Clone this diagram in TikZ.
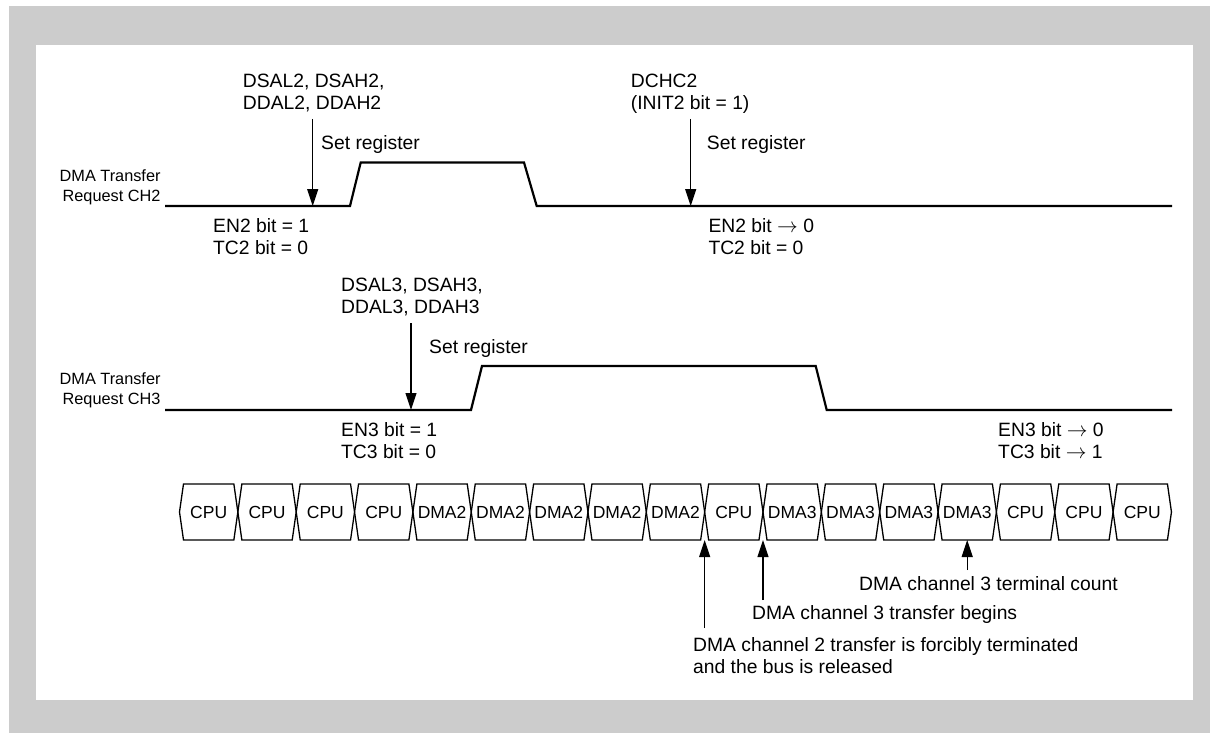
\documentclass[tikz,border=0pt]{standalone}
\usepackage{fontspec}
\setmainfont{Liberation Sans}
\usetikzlibrary{arrows.meta}
\definecolor{framegray}{RGB}{204,204,204}
\begin{document}
\begin{tikzpicture}[x=1pt,y=-1pt,
  lbl/.style={inner sep=0pt, anchor=north west, align=left, font=\fontsize{19.3}{22}\selectfont},
  sidelbl/.style={inner sep=0pt, anchor=north east, align=right, font=\fontsize{16.3}{20}\selectfont},
  buslbl/.style={inner sep=0pt, font=\fontsize{17.5}{20}\selectfont},
  wave/.style={line width=2.2pt, line join=miter},
  pointer/.style={line width=1.1pt, -{Triangle[length=17pt,width=11pt]}},
  busbox/.style={line width=1.3pt, line join=miter}]
\useasboundingbox (0,0) rectangle (1210,733);
\fill[framegray] (9,6) rectangle (1210,733);
\fill[white] (36,45) rectangle (1193,700);

% ---- CH2 ----
\node[sidelbl] (lab2) at (160.7,170) {DMA Transfer\\Request CH2};
\draw[wave] (165,206) -- (350,206) -- (360.7,162.5) -- (524,162.5) -- (536.7,206) -- (1172,206);
\node[lbl] (reg2) at (242.7,73.5) {DSAL2, DSAH2,\\DDAL2, DDAH2};
\node[lbl] (set2a) at (321,135) {Set register};
\coordinate (a2t) at (312.7,119);
\coordinate (a2h) at (312.7,206);
\draw[pointer] (a2t) -- (a2h);
\node[lbl] (en2a) at (213,218) {EN2 bit = 1\\TC2 bit = 0};
\node[lbl] (dchc2) at (630.7,73.5) {DCHC2\\(INIT2 bit = 1)};
\node[lbl] (set2b) at (706.7,135) {Set register};
\coordinate (b2t) at (690.7,119);
\coordinate (b2h) at (690.7,206);
\draw[pointer] (b2t) -- (b2h);
\node[lbl] (en2b) at (708.3,218) {EN2 bit $\rightarrow$ 0\\TC2 bit = 0};

% ---- CH3 ----
\node[sidelbl] (lab3) at (160.7,373) {DMA Transfer\\Request CH3};
\draw[wave] (165,410) -- (471,410) -- (482,366) -- (815.7,366) -- (826.7,410) -- (1172,410);
\node[lbl] (reg3) at (341,277.5) {DSAL3, DSAH3,\\DDAL3, DDAH3};
\node[lbl] (set3) at (429,339) {Set register};
\coordinate (a3t) at (411,323);
\coordinate (a3h) at (411,410);
\draw[pointer] (a3t) -- (a3h);
\node[lbl] (en3a) at (341,422) {EN3 bit = 1\\TC3 bit = 0};
\node[lbl] (en3b) at (998,422) {EN3 bit $\rightarrow$ 0\\TC3 bit $\rightarrow$ 1};

% ---- bus cycles ----
\foreach \lab [count=\i from 0] in {CPU,CPU,CPU,CPU,DMA2,DMA2,DMA2,DMA2,DMA2,CPU,DMA3,DMA3,DMA3,DMA3,CPU,CPU,CPU} {
  \pgfmathsetmacro\xa{179.5+\i*58.35}
  \pgfmathsetmacro\xb{\xa+58.35}
  \draw[busbox] (\xa,512) -- (\xa+4,484) -- (\xb-4,484) -- (\xb,512) -- (\xb-4,540) -- (\xa+4,540) -- cycle;
  \node[buslbl] (bus\i) at ({(\xa+\xb)/2},512) {\lab};
}
\coordinate (t9) at (704.65,540);
\coordinate (t10) at (763,540);
\coordinate (t13) at (967.2,540);
\coordinate (s9) at (704.65,628);
\coordinate (s10) at (763,600);
\coordinate (s13) at (967.2,570);
\draw[pointer] (s9) -- (t9);
\draw[pointer] (s10) -- (t10);
\draw[pointer] (s13) -- (t13);
\node[lbl] (tc) at (859,576) {DMA channel 3 terminal count};
\node[lbl] (begin) at (752,605) {DMA channel 3 transfer begins};
\node[lbl] (term) at (693,637) {DMA channel 2 transfer is forcibly terminated\\and the bus is released};
\end{tikzpicture}
\end{document}
